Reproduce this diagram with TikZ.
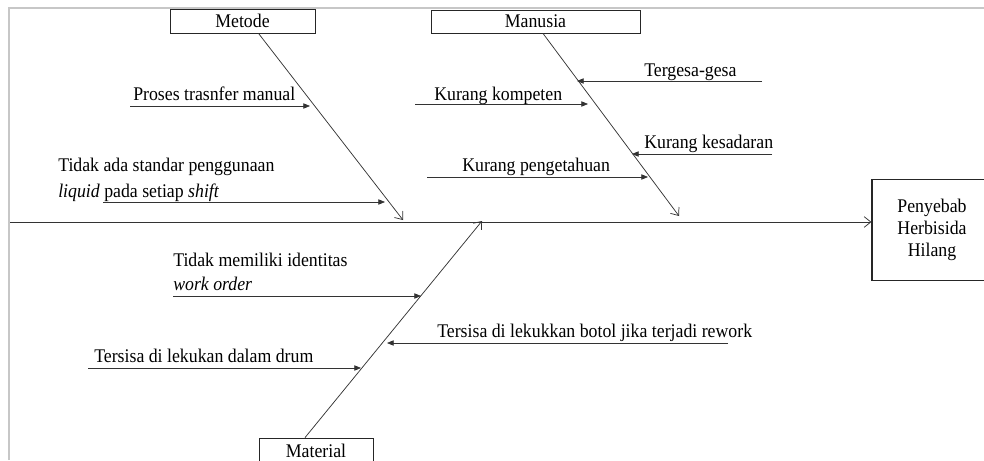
\documentclass[tikz,border=0pt]{standalone}
\usepackage{fontspec}
\setmainfont{Liberation Serif}[FakeStretch=0.92]
\usetikzlibrary{arrows.meta}

\tikzset{
  catbox/.style={draw=black!85, line width=0.6pt, inner sep=0pt},
  bone/.style={draw=black!80, line width=0.55pt, -{Straight Barb[length=5pt,width=8pt]}},
  cause/.style={draw=black!80, line width=0.55pt, -{Triangle[length=5pt,width=4pt]}},
  lbl/.style={anchor=base west, inner sep=0pt}
}

\begin{document}
\begin{tikzpicture}[x=0.75pt, y=-0.75pt, font=\fontsize{14.5pt}{16.5pt}\selectfont]
\useasboundingbox (0,0) rectangle (984,460);
% frame
\draw[black!22, line width=1.5pt] (9,460) -- (9,8) -- (984,8);

% category boxes and effect
\node[catbox, minimum width=108.75pt, minimum height=18pt] (metode) at (242.5,21) {Metode};
\node[catbox, minimum width=156.75pt, minimum height=17.25pt] (manusia) at (535.5,21.5) {Manusia};
\node[catbox, minimum width=85.5pt, minimum height=19.5pt] (material) at (316,451) {Material};
\node[catbox, line width=0.9pt, minimum width=90pt, minimum height=75.75pt, align=center,
  font=\fontsize{14.5pt}{16.5pt}\selectfont] (effect) at (932,230) {Penyebab\\Herbisida\\Hilang};

% spine
\coordinate (tail) at (10,222);
\draw[bone] (tail) -- (tail -| effect.west);

% bones
\coordinate (metodehead) at (403,220);
\coordinate (manusiahead) at (679,216);
\coordinate (materialhead) at (482,221);
\draw[bone] ([xshift=12pt]metode.south) -- (metodehead);
\draw[bone] ([xshift=5.6pt]manusia.south) -- (manusiahead);
\draw[bone] ([xshift=-8.25pt]material.north) -- (materialhead);

% Metode
\node[lbl] (proses) at (133,100) {Proses trasnfer manual};
\coordinate (proses-a) at (130,106);
\coordinate (proses-b) at (310,106);
\draw[cause] (proses-a) -- (proses-b);
\node[lbl] (standar) at (58,171) {Tidak ada standar penggunaan};
\node[lbl] (standar2) at (58,197) {\textit{liquid} pada setiap \textit{shift}};
\coordinate (standar-a) at (103,202);
\coordinate (standar-b) at (385,202);
\draw[cause] (standar-a) -- (standar-b);

% Manusia
\node[lbl] (tergesa) at (644,76) {Tergesa-gesa};
\coordinate (tergesa-a) at (762,81);
\coordinate (tergesa-b) at (577,81);
\draw[cause] (tergesa-a) -- (tergesa-b);
\node[lbl] (kompeten) at (434,100) {Kurang kompeten};
\coordinate (kompeten-a) at (415,104);
\coordinate (kompeten-b) at (588,104);
\draw[cause] (kompeten-a) -- (kompeten-b);
\node[lbl] (kesadaran) at (644,148) {Kurang kesadaran};
\coordinate (kesadaran-a) at (772,154);
\coordinate (kesadaran-b) at (632,154);
\draw[cause] (kesadaran-a) -- (kesadaran-b);
\node[lbl] (pengetahuan) at (462,171) {Kurang pengetahuan};
\coordinate (pengetahuan-a) at (427,177);
\coordinate (pengetahuan-b) at (648,177);
\draw[cause] (pengetahuan-a) -- (pengetahuan-b);

% Material
\node[lbl] (identitas) at (173,266) {Tidak memiliki identitas};
\node[lbl] (identitas2) at (173,290) {\textit{work order}};
\coordinate (identitas-a) at (173,296);
\coordinate (identitas-b) at (421,296);
\draw[cause] (identitas-a) -- (identitas-b);
\node[lbl] (botol) at (437,337) {Tersisa di lekukkan botol jika terjadi rework};
\coordinate (botol-a) at (728,343);
\coordinate (botol-b) at (387,343);
\draw[cause] (botol-a) -- (botol-b);
\node[lbl] (drum) at (94,362) {Tersisa di lekukan dalam drum};
\coordinate (drum-a) at (88,368);
\coordinate (drum-b) at (361,368);
\draw[cause] (drum-a) -- (drum-b);
\end{tikzpicture}
\end{document}
